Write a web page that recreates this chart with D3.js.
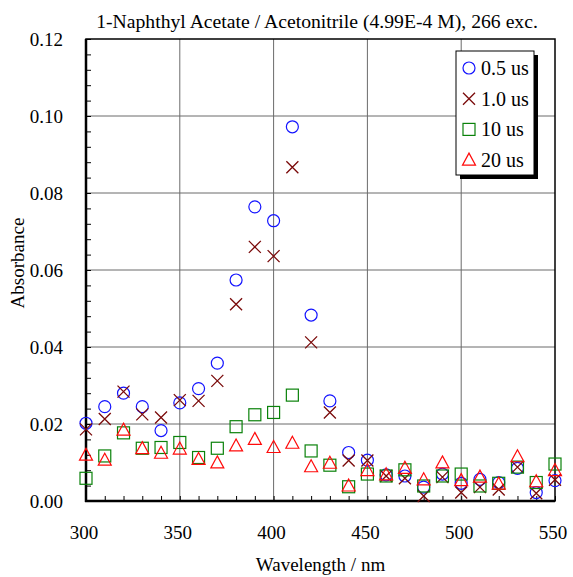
<!DOCTYPE html>
<html>
<head>
<meta charset="utf-8">
<script src="https://cdn.jsdelivr.net/npm/d3@7"></script>
<style>
  html, body { margin: 0; padding: 0; background: #fff; }
  svg { display: block; }
  svg text { font-family: "Liberation Serif", "Times New Roman", serif; fill: #000; }
</style>
</head>
<body>
<svg id="chart" width="573" height="577"></svg>
<script>
// Transient absorption of 1-naphthyl acetate in acetonitrile, 266 nm excitation
const wavelengths = [300, 310, 320, 330, 340, 350, 360, 370, 380, 390, 400, 410, 420,
                     430, 440, 450, 460, 470, 480, 490, 500, 510, 520, 530, 540, 550];

const abs_0_5us = [0.0202, 0.0245, 0.0280, 0.0245, 0.0183, 0.0255, 0.0292, 0.0358, 0.0574, 0.0764, 0.0728, 0.0972, 0.0483,
                   0.0260, 0.0126, 0.0106, 0.0068, 0.0065, 0.0036, 0.0070, 0.0046, 0.0056, 0.0048, 0.0085, 0.0022, 0.0053];
const abs_1_0us = [0.0186, 0.0213, 0.0284, 0.0225, 0.0217, 0.0262, 0.0260, 0.0312, 0.0511, 0.0660, 0.0636, 0.0867, 0.0412,
                   0.0230, 0.0105, 0.0105, 0.0065, 0.0059, 0.0013, 0.0062, 0.0022, 0.0036, 0.0030, 0.0088, 0.0020, 0.0055];
const abs_10us  = [0.0059, 0.0117, 0.0177, 0.0137, 0.0139, 0.0152, 0.0113, 0.0137, 0.0193, 0.0224, 0.0230, 0.0275, 0.0130,
                   0.0093, 0.0037, 0.0070, 0.0065, 0.0081, 0.0039, 0.0065, 0.0070, 0.0039, 0.0046, 0.0088, 0.0048, 0.0096];
const abs_20us  = [0.0119, 0.0106, 0.0184, 0.0136, 0.0124, 0.0135, 0.0108, 0.0099, 0.0143, 0.0160, 0.0139, 0.0150, 0.0089,
                   0.0098, 0.0039, 0.0079, 0.0068, 0.0085, 0.0055, 0.0099, 0.0053, 0.0062, 0.0044, 0.0115, 0.0050, 0.0079];

const seriesNames = ["0.5 us", "1.0 us", "10 us", "20 us"];
const xTickValues = [300, 350, 400, 450, 500, 550];
const yTickValues = [0.00, 0.02, 0.04, 0.06, 0.08, 0.10, 0.12];
const titleText = "1-Naphthyl Acetate / Acetonitrile (4.99E-4 M), 266 exc.";

const series = [
  { name: seriesNames[0], values: abs_0_5us, shape: "circle",   color: "#1414ff" },
  { name: seriesNames[1], values: abs_1_0us, shape: "cross",    color: "#7a0a0a" },
  { name: seriesNames[2], values: abs_10us,  shape: "square",   color: "#0a820a" },
  { name: seriesNames[3], values: abs_20us,  shape: "triangle", color: "#ff0a0a" }
];

const svg = d3.select("#chart");
const margin = { left: 86, right: 18, top: 39, bottom: 76 };
const W = 573, H = 577;
const x = d3.scaleLinear().domain([300, 550]).range([margin.left, W - margin.right]);
const y = d3.scaleLinear().domain([0, 0.12]).range([H - margin.bottom, margin.top]);

// gridlines at major ticks
const grid = svg.append("g").attr("stroke", "#6b6b6b").attr("stroke-width", 1);
xTickValues.slice(1, -1).forEach(v => {
  grid.append("line").attr("x1", x(v)).attr("x2", x(v)).attr("y1", y(0)).attr("y2", y(0.12));
});
yTickValues.slice(1, -1).forEach(v => {
  grid.append("line").attr("x1", x(300)).attr("x2", x(550)).attr("y1", y(v)).attr("y2", y(v));
});

// minor + major inward ticks on left and bottom axes
const xAxis = d3.axisBottom(x).tickValues(d3.range(300, 551, 10)).tickSize(-5).tickFormat("");
const yAxis = d3.axisLeft(y).tickValues(d3.range(0, 0.1201, 0.004)).tickSize(-5).tickFormat("");
svg.append("g").attr("transform", `translate(0,${y(0)})`).call(xAxis)
  .call(g => g.select(".domain").remove())
  .selectAll("line").attr("stroke", "#000").attr("stroke-width", 1);
svg.append("g").attr("transform", `translate(${x(300)},0)`).call(yAxis)
  .call(g => g.select(".domain").remove())
  .selectAll("line").attr("stroke", "#000").attr("stroke-width", 1);

// frame
svg.append("rect").attr("x", x(300)).attr("y", y(0.12))
  .attr("width", x(550) - x(300)).attr("height", y(0) - y(0.12))
  .attr("fill", "none").attr("stroke", "#000").attr("stroke-width", 1.5);
svg.append("line").attr("x1", x(300)).attr("x2", x(300)).attr("y1", y(0.12)).attr("y2", y(0) + 1)
  .attr("stroke", "#000").attr("stroke-width", 2.5);
svg.append("line").attr("x1", x(300) - 1).attr("x2", x(550)).attr("y1", y(0)).attr("y2", y(0))
  .attr("stroke", "#000").attr("stroke-width", 2.5);

// tick labels
svg.append("g").selectAll("text").data(xTickValues).join("text")
  .attr("x", d => x(d) - 2).attr("y", y(0) + 38)
  .attr("text-anchor", "middle").attr("font-size", 19).text(d => d);
svg.append("g").selectAll("text").data(yTickValues).join("text")
  .attr("x", x(300) - 23).attr("y", d => y(d) + 7)
  .attr("text-anchor", "end").attr("font-size", 19).text(d => d.toFixed(2));

// axis titles and chart title
svg.append("text").attr("x", (x(300) + x(550)) / 2).attr("y", 571)
  .attr("text-anchor", "middle").attr("font-size", 19).text("Wavelength / nm");
svg.append("text").attr("transform", `translate(24,263) rotate(-90)`)
  .attr("text-anchor", "middle").attr("font-size", 19).text("Absorbance");
svg.append("text").attr("x", 317).attr("y", 28)
  .attr("text-anchor", "middle").attr("font-size", 19.7).text(titleText);

// marker drawing
function drawMarker(sel, shape, color) {
  const s = 6;
  if (shape === "circle") {
    sel.append("circle").attr("r", s).attr("fill", "none").attr("stroke", color).attr("stroke-width", 1.2);
  } else if (shape === "cross") {
    sel.append("path").attr("d", `M${-s},${-s}L${s},${s}M${-s},${s}L${s},${-s}`)
      .attr("fill", "none").attr("stroke", color).attr("stroke-width", 1.3);
  } else if (shape === "square") {
    sel.append("rect").attr("x", -s).attr("y", -s).attr("width", 2 * s).attr("height", 2 * s)
      .attr("fill", "none").attr("stroke", color).attr("stroke-width", 1.2);
  } else {
    sel.append("path").attr("d", `M0,${-7}L${6.5},${5}L${-6.5},${5}Z`)
      .attr("fill", "none").attr("stroke", color).attr("stroke-width", 1.2);
  }
}

series.forEach(sr => {
  const g = svg.append("g");
  sr.values.forEach((v, i) => {
    const m = g.append("g").attr("transform", `translate(${x(wavelengths[i])},${y(v)})`);
    drawMarker(m, sr.shape, sr.color);
  });
});

// legend with drop shadow
const lg = svg.append("g").attr("transform", "translate(456,51)");
lg.append("rect").attr("x", 4).attr("y", 4).attr("width", 78).attr("height", 124).attr("fill", "#000");
lg.append("rect").attr("width", 78).attr("height", 124).attr("fill", "#fff").attr("stroke", "#000").attr("stroke-width", 1);
series.forEach((sr, i) => {
  const row = lg.append("g").attr("transform", `translate(13,${17 + i * 30.7})`);
  drawMarker(row, sr.shape, sr.color);
  row.append("text").attr("x", 12).attr("y", 7).attr("font-size", 20).text(sr.name);
});
</script>
</body>
</html>
